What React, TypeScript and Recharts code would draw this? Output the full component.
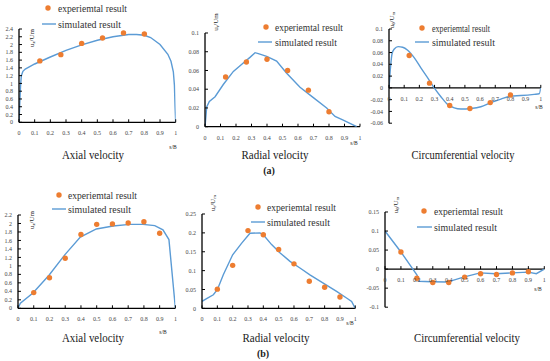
import { ComposedChart, Line, Scatter, XAxis, YAxis, ReferenceLine } from 'recharts';

const FONT = '"Liberation Serif", "Times New Roman", serif';
const ORANGE = '#ED7D31';
const BLUE = '#5B9BD5';

const xTicks = [0, 0.1, 0.2, 0.3, 0.4, 0.5, 0.6, 0.7, 0.8, 0.9, 1];

// (a) axial velocity
const axialAExpX = [0.133, 0.267, 0.4, 0.533, 0.667, 0.8];
const axialAExpY = [1.58, 1.74, 2.03, 2.17, 2.3, 2.27];
const axialASimX = [0, 0.005, 0.01, 0.015, 0.025, 0.04, 0.1, 0.2, 0.3, 0.4, 0.5, 0.6, 0.7, 0.75, 0.8, 0.84, 0.9, 0.95, 0.97, 0.985, 0.992, 0.996, 1];
const axialASimY = [0, 0.5, 0.95, 1.2, 1.31, 1.37, 1.5, 1.68, 1.85, 1.99, 2.11, 2.2, 2.26, 2.26, 2.24, 2.18, 2.0, 1.75, 1.57, 1.3, 0.95, 0.4, 0];
const axialATicks = [0, 0.2, 0.4, 0.6, 0.8, 1, 1.2, 1.4, 1.6, 1.8, 2, 2.2, 2.4];

// (a) radial velocity
const radialAExpX = [0.133, 0.267, 0.4, 0.533, 0.667, 0.8];
const radialAExpY = [0.053, 0.069, 0.072, 0.06, 0.039, 0.016];
const radialASimX = [0, 0.011, 0.028, 0.065, 0.118, 0.183, 0.247, 0.29, 0.323, 0.344, 0.398, 0.462, 0.527, 0.613, 0.699, 0.785, 0.839, 0.892, 0.979];
const radialASimY = [0, 0.021, 0.027, 0.032, 0.045, 0.059, 0.068, 0.074, 0.079, 0.078, 0.075, 0.07, 0.057, 0.042, 0.031, 0.02, 0.011, 0.007, 0];
const radialATicks = [0, 0.02, 0.04, 0.06, 0.08, 0.1];

// (a) circumferential velocity
const circAExpX = [0.133, 0.267, 0.4, 0.533, 0.667, 0.8];
const circAExpY = [0.055, 0.008, -0.03, -0.035, -0.025, -0.012];
const circASimX = [0, 0.01, 0.02, 0.035, 0.06, 0.09, 0.123, 0.167, 0.21, 0.255, 0.298, 0.342, 0.386, 0.43, 0.474, 0.539, 0.605, 0.671, 0.737, 0.803, 0.868, 0.956, 0.99, 1];
const circASimY = [0, 0.035, 0.058, 0.066, 0.07, 0.069, 0.064, 0.051, 0.034, 0.017, 0, -0.015, -0.028, -0.034, -0.036, -0.035, -0.032, -0.025, -0.019, -0.014, -0.013, -0.011, -0.01, 0];
const circATicks = [-0.06, -0.04, -0.02, 0, 0.02, 0.04, 0.06, 0.08, 0.1];

// (b) axial velocity
const axialBExpX = [0.1, 0.2, 0.3, 0.4, 0.5, 0.6, 0.7, 0.8, 0.9];
const axialBExpY = [0.37, 0.72, 1.18, 1.74, 1.98, 1.99, 2.01, 2.04, 1.77];
const axialBSimX = [0, 0.015, 0.095, 0.197, 0.297, 0.396, 0.498, 0.604, 0.71, 0.794, 0.869, 0.921, 0.959, 1];
const axialBSimY = [0, 0.12, 0.36, 0.78, 1.26, 1.68, 1.87, 1.94, 1.98, 1.98, 1.95, 1.85, 1.62, 0];
const axialBTicks = [0, 0.2, 0.4, 0.6, 0.8, 1, 1.2, 1.4, 1.6, 1.8, 2, 2.2];

// (b) radial velocity
const radialBExpX = [0.1, 0.2, 0.3, 0.4, 0.5, 0.6, 0.7, 0.8, 0.9];
const radialBExpY = [0.051, 0.114, 0.206, 0.195, 0.156, 0.118, 0.072, 0.056, 0.03];
const radialBSimX = [0, 0.03, 0.074, 0.1, 0.139, 0.2, 0.259, 0.313, 0.378, 0.4, 0.454, 0.508, 0.574, 0.639, 0.704, 0.791, 0.878, 0.943, 0.976, 1];
const radialBSimY = [0.0185, 0.026, 0.036, 0.0495, 0.089, 0.142, 0.173, 0.199, 0.2, 0.195, 0.169, 0.1475, 0.1245, 0.107, 0.089, 0.067, 0.045, 0.0275, 0.0185, 0];
const radialBTicks = [0, 0.05, 0.1, 0.15, 0.2, 0.25];

// (b) circumferential velocity
const circBExpX = [0.1, 0.2, 0.3, 0.4, 0.5, 0.6, 0.7, 0.8, 0.9];
const circBExpY = [0.045, -0.024, -0.035, -0.035, -0.021, -0.012, -0.014, -0.01, -0.007];
const circBSimX = [0, 0.1, 0.2, 0.216, 0.29, 0.39, 0.493, 0.597, 0.695, 0.797, 0.9, 0.95, 1];
const circBSimY = [0.1, 0.045, -0.015, -0.032, -0.033, -0.034, -0.021, -0.01, -0.012, -0.01, -0.008, -0.012, 0];
const circBTicks = [-0.1, -0.05, 0, 0.05, 0.1, 0.15];

const zip = (xs: number[], ys: number[]) => xs.map((x, i) => ({ x, y: ys[i] }));
const fmt = (v: number) => String(parseFloat(Number(v).toFixed(3)));

const YW = 26;
const MT = 6;

function Panel({ box, ticks, expX, expY, simX, simY, smooth }: any) {
  const [x0, y0, x1, y1] = box;
  const W = x1 - x0;
  const H = y1 - y0;
  const ymin = ticks[0];
  const ymax = ticks[ticks.length - 1];
  // x axis sits on y = 0, which is mid-plot for the circumferential panels
  const zeroY = MT + (H * ymax) / (ymax - ymin);

  const xTick = (p: any) => (
    <g>
      <line x1={p.x} x2={p.x} y1={zeroY} y2={zeroY - 3} stroke="#000" strokeWidth={1} />
      <text x={p.x} y={zeroY + 11} textAnchor="middle" dominantBaseline="central"
        fontSize={6} fontFamily={FONT} fill="#444">
        {fmt(p.payload.value)}
      </text>
    </g>
  );

  return (
    <div style={{ position: 'absolute', left: x0 - YW, top: y0 - MT }}>
      <ComposedChart width={W + YW + 6} height={H + MT + 20}
        margin={{ top: MT, right: 6, bottom: 4, left: 0 }}>
        <XAxis type="number" dataKey="x" domain={[0, 1]} ticks={xTicks} interval={0}
          allowDataOverflow axisLine={false} tickLine={false} tickSize={0} tickMargin={0}
          height={16} tick={xTick} />
        <YAxis type="number" dataKey="y" domain={[ymin, ymax]} ticks={ticks} interval={0}
          allowDataOverflow width={YW} tickSize={-3} tickMargin={9} tickFormatter={fmt}
          axisLine={{ stroke: '#000', strokeWidth: 1.3 }} tickLine={{ stroke: '#000' }}
          tick={{ fontSize: 6, fontFamily: FONT, fill: '#444' }} />
        <ReferenceLine y={0} stroke="#000" strokeWidth={1.3} />
        <Line data={zip(simX, simY)} dataKey="y" type={smooth ? 'monotone' : 'linear'}
          stroke={BLUE} strokeWidth={1.4} dot={false} isAnimationActive={false} />
        <Scatter data={zip(expX, expY)} dataKey="y" isAnimationActive={false}
          shape={(p: any) => <circle cx={p.cx} cy={p.cy} r={2.7} fill={ORANGE} />} />
      </ComposedChart>
    </div>
  );
}

// fixed-width svg text, so the overlay matches the figure's typeset widths
function T({ x, y, w, size, anchor, bold, fill, children }: any) {
  return (
    <text x={x} y={y} fontSize={size} fontFamily={FONT} textAnchor={anchor || 'start'}
      dominantBaseline="central" textLength={w} lengthAdjust="spacingAndGlyphs"
      fontWeight={bold ? 'bold' : 'normal'} fill={fill || '#222'}>
      {children}
    </text>
  );
}

function LegendBox({ dx, dy, lx, ly, tx, w1, w2 }: any) {
  return (
    <g>
      <circle cx={dx} cy={dy} r={2.7} fill={ORANGE} />
      <T x={tx} y={dy} w={w1} size={11} fill="#333">experiemtal result</T>
      <line x1={lx[0]} x2={lx[1]} y1={ly} y2={ly} stroke={BLUE} strokeWidth={1.4} />
      <T x={tx} y={ly} w={w2} size={11} fill="#333">simulated result</T>
    </g>
  );
}

function YLabel({ x, y, children }: any) {
  return (
    <div style={{ position: 'absolute', left: x, top: y, whiteSpace: 'nowrap',
      transform: 'translate(-50%, -50%) rotate(-90deg)', fontSize: 7, fontFamily: FONT,
      color: '#222', lineHeight: 1 }}>
      {children}
    </div>
  );
}

const sub = { fontSize: '0.7em', verticalAlign: '-0.25em' };

export default function App() {
  return (
    <div style={{ position: 'absolute', left: 0, top: 0, width: 550, height: 361,
      background: '#fff', overflow: 'hidden' }}>
      <Panel box={[19, 28.7, 175.7, 122]} ticks={axialATicks}
        expX={axialAExpX} expY={axialAExpY} simX={axialASimX} simY={axialASimY} />
      <Panel box={[205, 33.3, 360, 127]} ticks={radialATicks}
        expX={radialAExpX} expY={radialAExpY} simX={radialASimX} simY={radialASimY} />
      <Panel box={[388.5, 29.3, 540.3, 123.5]} ticks={circATicks} smooth
        expX={circAExpX} expY={circAExpY} simX={circASimX} simY={circASimY} />
      <Panel box={[18.3, 215, 175.7, 308.3]} ticks={axialBTicks}
        expX={axialBExpX} expY={axialBExpY} simX={axialBSimX} simY={axialBSimY} />
      <Panel box={[202, 214.3, 355.3, 308.7]} ticks={radialBTicks}
        expX={radialBExpX} expY={radialBExpY} simX={radialBSimX} simY={radialBSimY} />
      <Panel box={[385, 212.3, 544.3, 307.5]} ticks={circBTicks}
        expX={circBExpX} expY={circBExpY} simX={circBSimX} simY={circBSimY} />

      <YLabel x={33} y={38}>u<span style={sub}>z</span>/Um</YLabel>
      <YLabel x={217} y={22}>u<span style={sub}>r</span>/Um</YLabel>
      <YLabel x={393} y={20}>u<span style={sub}>θ</span>/U<span style={sub}>m</span></YLabel>
      <YLabel x={33} y={220}>u<span style={sub}>z</span>/Um</YLabel>
      <YLabel x={214} y={203}>u<span style={sub}>r</span>/U<span style={sub}>m</span></YLabel>
      <YLabel x={397} y={205}>u<span style={sub}>θ</span>/U<span style={sub}>m</span></YLabel>

      <svg width={550} height={361} style={{ position: 'absolute', left: 0, top: 0 }}>
        <LegendBox dx={48} dy={8} lx={[42, 56]} ly={24} tx={58} w1={69} w2={63} />
        <LegendBox dx={266} dy={27} lx={[258, 272]} ly={42} tx={275} w1={68} w2={62} />
        <LegendBox dx={422} dy={28} lx={[415, 429]} ly={42} tx={432} w1={58} w2={63} />
        <LegendBox dx={59} dy={195} lx={[52, 66]} ly={209} tx={68} w1={69} w2={63} />
        <LegendBox dx={258} dy={207} lx={[251, 265]} ly={222} tx={267} w1={69} w2={63} />
        <LegendBox dx={424} dy={211} lx={[417, 432]} ly={227} tx={434} w1={69} w2={63} />

        <T x={173} y={147} size={5.5} anchor="middle">s/B</T>
        <T x={354} y={143} size={5.5} anchor="middle">s/B</T>
        <T x={539} y={107} size={5.5} anchor="middle">s/B</T>
        <T x={163} y={332} size={5.5} anchor="middle">s/B</T>
        <T x={350} y={323} size={5.5} anchor="middle">s/B</T>
        <T x={538} y={289} size={5.5} anchor="middle">s/B</T>

        <T x={93} y={155} w={62} size={11.5} anchor="middle">Axial velocity</T>
        <T x={275} y={155} w={67} size={11.5} anchor="middle">Radial velocity</T>
        <T x={463} y={155} w={103} size={11.5} anchor="middle">Circumferential velocity</T>
        <T x={93} y={338} w={62} size={11.5} anchor="middle">Axial velocity</T>
        <T x={276} y={338} w={67} size={11.5} anchor="middle">Radial velocity</T>
        <T x={467} y={338} w={106} size={11.5} anchor="middle">Circumferential velocity</T>

        <T x={269} y={170} size={10} anchor="middle" bold>(a)</T>
        <T x={263} y={353} size={10} anchor="middle" bold>(b)</T>
      </svg>
    </div>
  );
}
